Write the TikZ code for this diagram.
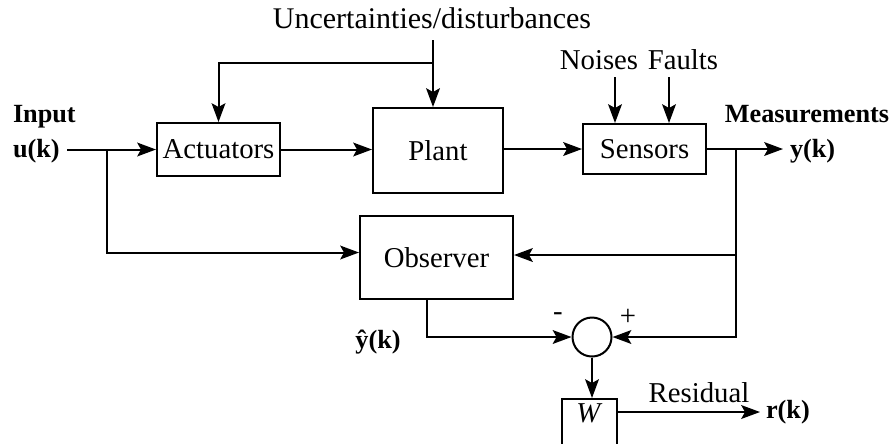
\documentclass[tikz,border=0pt]{standalone}
\usepackage{fontspec}
\setmainfont{Liberation Serif}
\usetikzlibrary{arrows.meta,positioning,calc}

\begin{document}
\begin{tikzpicture}[x=0.4pt,y=-0.4pt,line width=0.8pt,
every node/.style={font=\fontsize{11.5}{14}\selectfont},
blk/.style={draw,rectangle,inner sep=0pt},
bld/.style={font=\fontsize{10.5}{12}\selectfont\bfseries},
sig/.style={-{Stealth[length=7.5pt,width=5.5pt,inset=1.5pt]}}]
\useasboundingbox (0,0) rectangle (891,443);
% blocks
\node[blk,minimum width=49.2pt,minimum height=21.2pt] (act) at (218.5,149.5) {Actuators};
\node[blk,minimum width=52pt,minimum height=34pt] (plant) at (438,150.5) {Plant};
\node[blk,minimum width=49.2pt,minimum height=20pt] (sens) at (644.5,149) {Sensors};
\node[blk,minimum width=61.2pt,minimum height=33.2pt] (obs) at (436.5,257.5) {Observer};
\node[draw,circle,minimum size=15.6pt,inner sep=0pt] (sum) at (592,337) {};
\node[blk,anchor=north,minimum width=22pt,minimum height=22pt] (wbox) at (589.5,398) {};
\node (wl) at ($(wbox.north)+(0,15)$) {\textit{W}};
% labels
\node (unc) at (432,18) {\fontsize{12}{14}\selectfont Uncertainties/disturbances};
\node (noi) at (599,60) {Noises};
\node (flt) at (683,60) {Faults};
\node[bld,anchor=west,inner xsep=0pt] (inp) at (12,117) {Input};
\node[bld,anchor=west,inner xsep=0pt] (uk) at (12,151) {u(k)};
\node[bld] (meas) at (807,114) {Measurements};
\node[bld,anchor=west,inner xsep=0pt] (yk) at (789,151) {y(k)};
\node[bld] (yhat) at (378,342) {ŷ(k)};
\node (mi) at (558,317) {-};
\node (pl) at (628,317) {+};
\node (res) at (699,393) {Residual};
\node[bld,anchor=west,inner xsep=0pt] (rk) at (765,412) {r(k)};
% points
\coordinate (uin) at (67,149.5);
\coordinate (ujn) at (107,149.5);
\coordinate (yjn) at (736,149);
\coordinate (yout) at (783,149);
\coordinate (dtop) at (433,40);
\coordinate (djn) at (433,63);
\coordinate (nz) at (615,77);
\coordinate (fz) at (669,77);
\coordinate (rin) at ($(wbox.north east)+(0,14)$);
\coordinate (rout) at (760,412);
% connections
\draw[sig] (uin) -- (act.west);
\draw[sig] (act.east) -- (act.east -| plant.west);
\draw[sig] (plant.east |- sens.west) -- (sens.west);
\draw[sig] (sens.east) -- (yout);
\draw[sig] (dtop) -- (dtop |- plant.north);
\draw[sig] (djn) -| (act.north);
\draw[sig] (nz) -- (nz |- sens.north);
\draw[sig] (fz) -- (fz |- sens.north);
\draw[sig] (ujn) |- ([yshift=2pt]obs.west);
\draw[sig] (yjn) |- ([yshift=1pt]obs.east);
\draw[sig] (yjn) |- (sum.east);
\draw[sig] ([xshift=-3.8pt]obs.south) |- (sum.west);
\draw[sig] (sum.south) -- (sum.south |- wbox.north);
\draw[sig] (rin) -- (rout);
\end{tikzpicture}
\end{document}
